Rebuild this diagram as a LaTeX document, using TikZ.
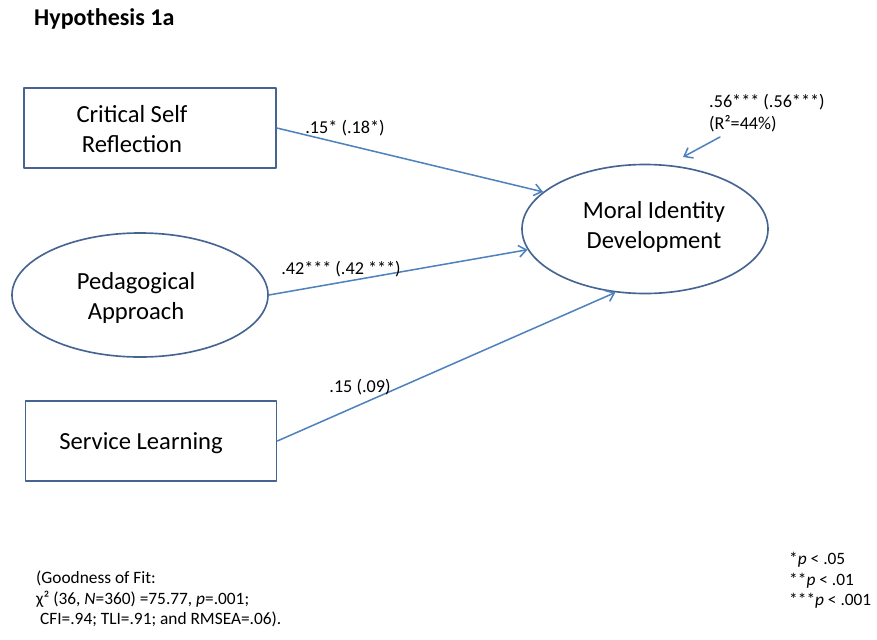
\documentclass[tikz,border=0pt]{standalone}
\usepackage{fontspec}
\setmainfont{Carlito}
\usetikzlibrary{arrows.meta}
\usetikzlibrary{shapes.geometric}
\definecolor{shapeline}{RGB}{70,100,145}
\definecolor{pathline}{RGB}{79,129,189}

\begin{document}
\begin{tikzpicture}[
			% pixel-like units, y running downwards
			x=0.03cm,
			y=-0.03cm,
			line join=round, line cap=round, >={Straight Barb[length=6.5pt,width=10pt]},
			varbox/.style={draw=shapeline, line width=1.4pt, inner sep=0pt, minimum width=7.56cm, minimum height=2.4cm},
			varoval/.style={ellipse, draw=shapeline, line width=1.4pt, inner sep=0pt},
			vartext/.style={align=center, inner sep=0pt, font=\fontsize{21pt}{26pt}\selectfont},
			coef/.style={inner sep=0pt, font=\fontsize{15.5pt}{18pt}\selectfont},
			note/.style={align=left, inner sep=0pt, anchor=north west, font=\fontsize{14.8pt}{17.5pt}\selectfont},
			path/.style={->, draw=pathline, line width=1.3pt}
		]

		\useasboundingbox (0,0) rectangle (877,639);

		%-------------------
		% Title
		%-------------------
		\node[anchor=west, inner sep=0pt, font=\fontsize{20.5pt}{24pt}\selectfont\bfseries] (title) at (34,19) {Hypothesis 1a};

		%-------------------
		% Predictors
		%-------------------
		\node[varbox] (crit) at (150,128) {};
		\node[vartext] (critT) at (132,129) {Critical Self\\Reflection};

		\node[varoval, minimum width=7.68cm, minimum height=3.72cm] (peda) at (140,295) {};
		\node[vartext] (pedaT) at (136,298) {Pedagogical\\Approach};

		\node[varbox, minimum width=7.53cm] (serv) at (151,441) {};
		\node[vartext] (servT) at (141,443) {Service Learning};

		%-------------------
		% Outcome
		%-------------------
		\node[varoval, minimum width=7.38cm, minimum height=3.87cm] (moral) at (645,229) {};
		\node[vartext] (moralT) at (654,227) {Moral Identity\\Development};

		%-------------------
		% Paths
		%-------------------
		\draw[path] (crit.east) -- (moral.160);
		\draw[path] (peda.east) -- (moral.190);
		\draw[path] (serv.east) -- (moral.245);

		\coordinate (res) at (720,137);
		\coordinate (resEnd) at (683,157);
		\draw[path] (res) -- (resEnd);

		%-------------------
		% Coefficients
		%-------------------
		\node[coef] (c1) at (345,128) {.15* (.18*)};
		\node[coef] (c2) at (341,269) {.42*** (.42 ***)};
		\node[coef] (c3) at (360,387) {.15 (.09)};
		\node[coef, anchor=west] (c4) at (709,102) {.56*** (.56***)};
		\node[coef, anchor=west] (c5) at (709,124) {(R²=44\%)};

		%-------------------
		% Notes
		%-------------------
		\node[note] (fit) at (36,571) {(Goodness of Fit:\\χ² (36, \textit{N}=360) =75.77, \textit{p}=.001;\\\ CFI=.94; TLI=.91; and RMSEA=.06).};
		\node[note] (sig) at (789,552) {*\textit{p} < .05\\**\textit{p} < .01\\***\textit{p} < .001};

	\end{tikzpicture}
\end{document}
